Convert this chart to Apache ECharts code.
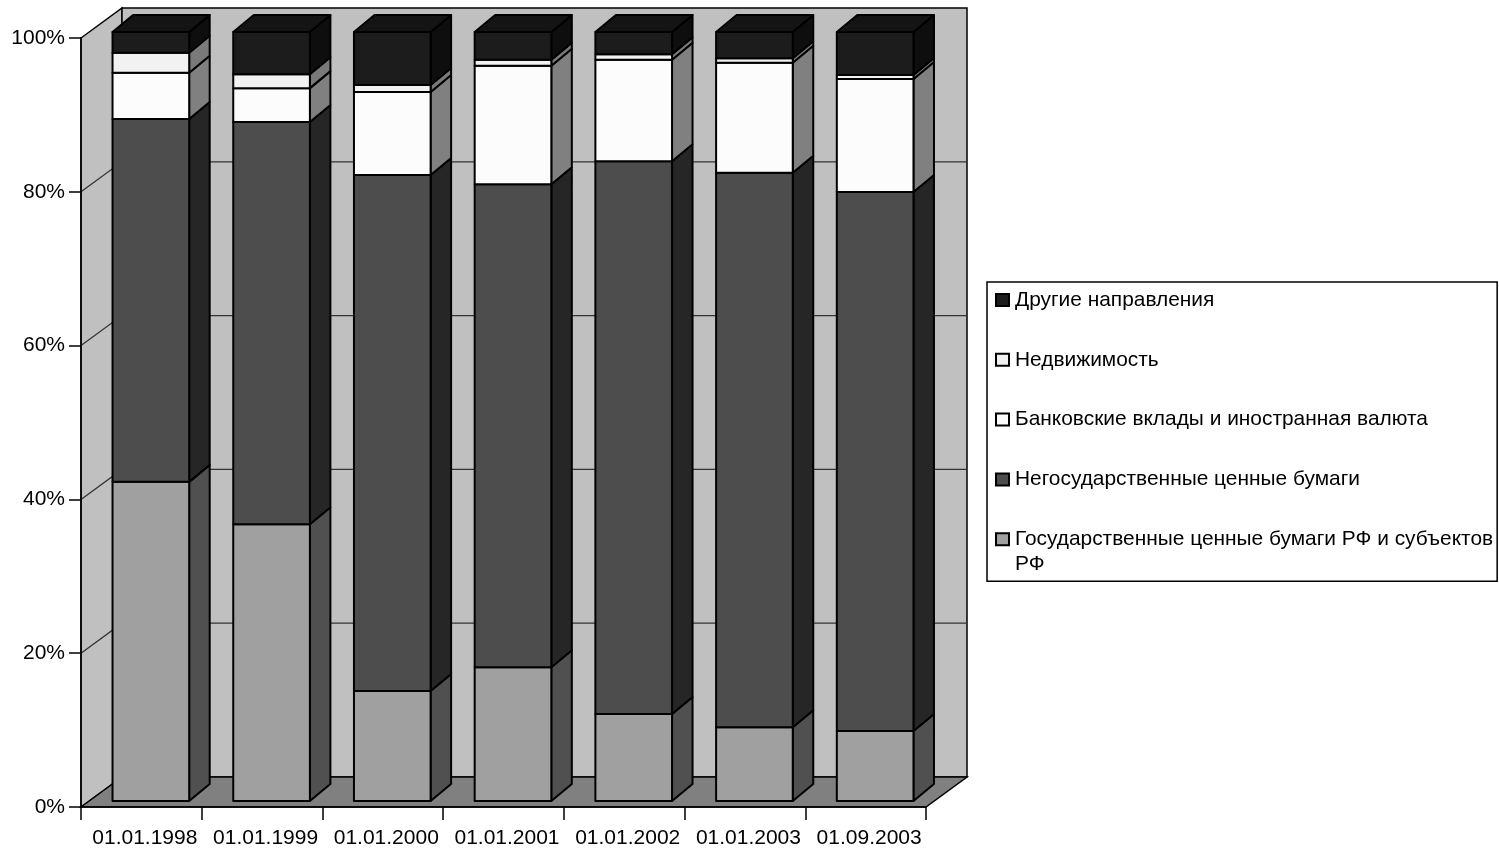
<!DOCTYPE html>
<html>
<head>
<meta charset="utf-8">
<style>html,body{margin:0;padding:0;background:#fff}#c{width:1499px;height:849px}</style>
<script src="https://cdn.jsdelivr.net/npm/echarts@6/dist/echarts.min.js"></script>
</head>
<body>
<div id="c"></div>
<script>
const categories = ['01.01.1998','01.01.1999','01.01.2000','01.01.2001','01.01.2002','01.01.2003','01.09.2003'];
const gov     = [41.5, 36.0, 14.3, 17.4, 11.3,  9.6,  9.1];
const nonGov  = [47.2, 52.3, 67.1, 62.8, 71.9, 72.1, 70.1];
const deposits= [ 6.0,  4.4, 10.8, 15.4, 13.2, 14.3, 14.7];
const realty  = [ 2.6,  1.8,  0.9,  0.8,  0.7,  0.6,  0.5];
const other   = [ 2.7,  5.5,  6.9,  3.6,  2.9,  3.4,  5.6];
const seriesNames = ['Государственные ценные бумаги РФ и субъектов РФ','Негосударственные ценные бумаги','Банковские вклады и иностранная валюта','Недвижимость','Другие направления'];
const seriesValues = [gov, nonGov, deposits, realty, other];
const frontColors = ['#a0a0a0','#4d4d4d','#fcfcfc','#f2f2f2','#1c1c1c'];
const sideColors  = ['#505050','#262626','#808080','#7a7a7a','#0e0e0e'];
const topColor = '#141414';
const yTicks = [0,20,40,60,80,100];

const FONT = '"Liberation Sans", Arial, sans-serif';
const WALL_DX = 41, WALL_DY = 30;
const BAR_OFF_X = 9.5, BAR_OFF_Y = 6;
const BAR_DX = 20.5, BAR_DY = 17;
const BAR_W = 0.635;

function renderWalls(params, api) {
  const cs = params.coordSys;
  const L = cs.x, R = cs.x + cs.width, B = cs.y + cs.height;
  const T = cs.y;
  const children = [];
  const edge = {stroke:'#000', lineWidth:1.5};
  children.push({type:'polygon', shape:{points:[[L,T],[L+WALL_DX,T-WALL_DY],[L+WALL_DX,B-WALL_DY],[L,B]]}, style:{fill:'#c0c0c0', ...edge}});
  children.push({type:'rect', shape:{x:L+WALL_DX,y:T-WALL_DY,width:cs.width,height:cs.height}, style:{fill:'#c0c0c0', ...edge}});
  children.push({type:'polygon', shape:{points:[[L,B],[L+WALL_DX,B-WALL_DY],[R+WALL_DX,B-WALL_DY],[R,B]]}, style:{fill:'#808080', ...edge}});
  yTicks.slice(1,-1).forEach(v => {
    const y = api.coord([0, v])[1];
    children.push({type:'polyline', shape:{points:[[L,y],[L+WALL_DX,y-WALL_DY],[R+WALL_DX,y-WALL_DY]]}, style:{fill:null, stroke:'#333', lineWidth:1.3}});
  });
  return {type:'group', children};
}

function makeRender(sIdx) {
  return function (params, api) {
    const cat = api.value(0), lo = api.value(1), hi = api.value(2);
    const w = api.size([1,0])[0] * BAR_W;
    const pLo = api.coord([cat, lo]), pHi = api.coord([cat, hi]);
    const x0 = pLo[0] + BAR_OFF_X - w/2, x1 = x0 + w;
    const yB = pLo[1] - BAR_OFF_Y, yT = pHi[1] - BAR_OFF_Y;
    const line = {stroke:'#000', lineWidth:2, lineJoin:'round'};
    const kids = [
      {type:'polygon', shape:{points:[[x1,yB],[x1+BAR_DX,yB-BAR_DY],[x1+BAR_DX,yT-BAR_DY],[x1,yT]]}, style:{fill:sideColors[sIdx], ...line}},
      {type:'rect', shape:{x:x0,y:yT,width:w,height:yB-yT}, style:{fill:frontColors[sIdx], ...line}}
    ];
    if (sIdx === seriesValues.length - 1) {
      kids.push({type:'polygon', shape:{points:[[x0,yT],[x0+BAR_DX,yT-BAR_DY],[x1+BAR_DX,yT-BAR_DY],[x1,yT]]}, style:{fill:topColor, ...line}});
    }
    return {type:'group', children:kids};
  };
}

const series = [{type:'custom', silent:true, z:1, coordinateSystem:'cartesian2d', data:[[0,0]], renderItem:renderWalls, clip:false, legendHoverLink:false, animation:false}];
seriesValues.forEach((vals, s) => {
  const data = vals.map((v, i) => {
    let base = 0;
    for (let k = 0; k < s; k++) base += seriesValues[k][i];
    return [i, base, base + v];
  });
  series.push({
    name: seriesNames[s], type:'custom', z:2+s, coordinateSystem:'cartesian2d',
    renderItem: makeRender(s), data, clip:false, animation:false,
    encode:{x:0, y:[1,2]},
    itemStyle:{color:frontColors[s], borderColor:'#000', borderWidth:1.5}
  });
});

const legendFont = 20.9;
const chart = echarts.init(document.getElementById('c'), null, {renderer:'canvas'});
chart.setOption({
  animation:false,
  backgroundColor:'#fff',
  grid:{left:81, top:38, width:845, height:769, containLabel:false},
  xAxis:{
    type:'category', data:categories, z:20,
    axisLine:{lineStyle:{color:'#000', width:1.5}},
    axisTick:{show:true, alignWithLabel:false, length:13, lineStyle:{color:'#000', width:1.5}},
    axisLabel:{color:'#000', fontFamily:FONT, fontSize:21, margin:21, interval:0, padding:[0,0,0,7]},
    splitLine:{show:false}
  },
  yAxis:{
    type:'value', min:0, max:100, interval:20, z:20,
    axisLine:{show:true, lineStyle:{color:'#000', width:1.5}},
    axisTick:{show:true, length:12, lineStyle:{color:'#000', width:1.5}},
    axisLabel:{color:'#000', fontFamily:FONT, fontSize:21, margin:16, formatter:'{value}%'},
    splitLine:{show:false}
  },
  legend:{
    orient:'vertical', left:987, top:282,
    data:seriesNames.slice().reverse(),
    icon:'rect', itemWidth:13, itemHeight:12, itemGap:38.8,
    padding:[7.5,4,31.5,8],
    backgroundColor:'#fff', borderColor:'#000', borderWidth:1.5, borderRadius:0,
    selectedMode:false,
    textStyle:{color:'#000', fontFamily:FONT, fontSize:legendFont, lineHeight:20.3, padding:[0,0,0,1]},
    formatter:function(n){ return n.replace(/ РФ$/, ''); }
  },
  graphic:[{type:'text', z:50, left:1015, top:554, style:{text:'РФ', fill:'#000', font:legendFont+'px '+FONT}}],
  series
});
</script>
</body>
</html>
